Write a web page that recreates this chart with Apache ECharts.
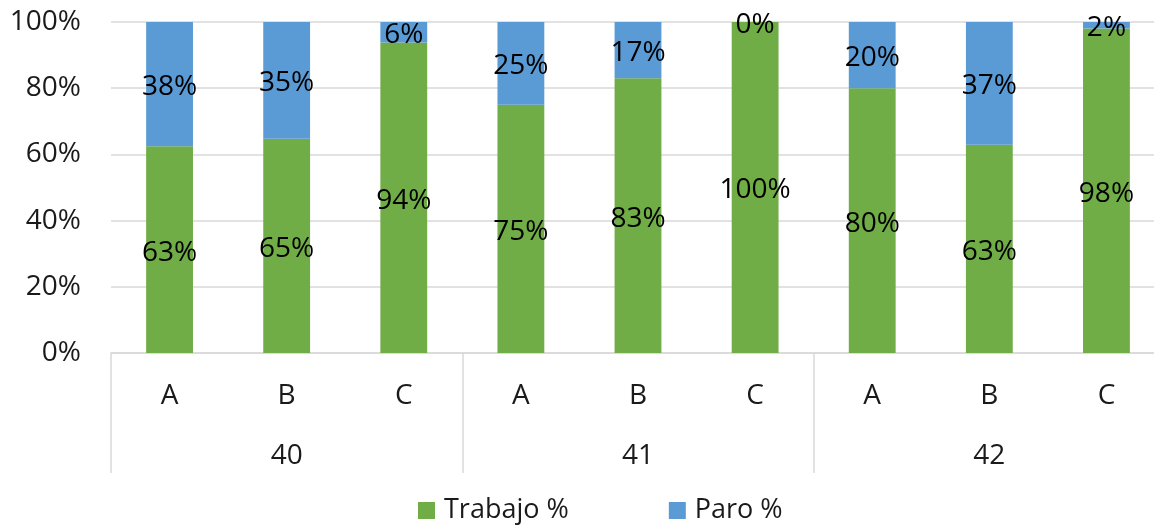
<!DOCTYPE html>
<html>
<head>
<meta charset="utf-8">
<script src="https://cdn.jsdelivr.net/npm/echarts@6/dist/echarts.min.js"></script>
<style>
  html, body { margin: 0; padding: 0; background: #fff; }
  #chart { width: 1154px; height: 525px; }
</style>
</head>
<body>
<div id="chart"></div>
<script>
// Two-level category axis: shift (A/B/C) inside each group (40/41/42)
const groups = ['40', '41', '42'];
const shifts = ['A', 'B', 'C'];
const categories = ['A', 'B', 'C', 'A', 'B', 'C', 'A', 'B', 'C'];

// Share of each slot, in percent
const trabajo = [62.5, 64.7, 93.8, 75, 83, 100, 80, 62.9, 98];
const paro = [37.5, 35.3, 6.2, 25, 17, 0, 20, 37.1, 2];

const yTicks = [0, 20, 40, 60, 80, 100];

const FONT = '"Open Sans", "Noto Sans", sans-serif';
const TEXT = '#1a1a1a';
const LINE = '#d9d9d9';
const FS = 28;

const chart = echarts.init(document.getElementById('chart'), null, { renderer: 'canvas' });

const labelStyle = {
  show: true,
  position: 'inside',
  color: '#000',
  fontFamily: FONT,
  fontSize: FS,
  offset: [0, 3],
  formatter: p => Math.round(p.value) + '%'
};

chart.setOption({
  animation: false,
  textStyle: { fontFamily: FONT },
  grid: { left: 111, top: 22, bottom: 172, width: 1054, outerBoundsMode: 'none', containLabel: false },
  legend: {
    data: ['Trabajo %', 'Paro %'],
    left: 413,
    top: 492,
    icon: 'rect',
    itemWidth: 17,
    itemHeight: 17,
    itemGap: 100,
    textStyle: { fontFamily: FONT, fontSize: 27, color: TEXT, padding: [0, 0, 0, 4] }
  },
  xAxis: [
    {
      type: 'category',
      data: categories,
      position: 'bottom',
      axisLine: { show: true, lineStyle: { color: LINE, width: 1.5 } },
      axisTick: { show: false },
      axisLabel: { color: TEXT, fontFamily: FONT, fontSize: FS, margin: 29 }
    },
    {
      type: 'category',
      data: groups,
      position: 'bottom',
      axisLine: { show: false },
      axisTick: { show: true, length: 120, lineStyle: { color: LINE, width: 1.5 } },
      axisLabel: { color: TEXT, fontFamily: FONT, fontSize: FS, margin: 89 }
    }
  ],
  yAxis: {
    type: 'value',
    min: yTicks[0],
    max: yTicks[yTicks.length - 1],
    interval: 20,
    axisLine: { show: false },
    axisTick: { show: false },
    splitLine: { lineStyle: { color: LINE, width: 1.5 } },
    axisLabel: {
      color: TEXT, fontFamily: FONT, fontSize: FS, margin: 30,
      padding: [4, 0, 0, 0],
      formatter: v => v + '%'
    }
  },
  series: [
    {
      name: 'Trabajo %',
      type: 'bar',
      stack: 'total',
      xAxisIndex: 0,
      barWidth: '40%',
      data: trabajo,
      itemStyle: { color: '#70AD47' },
      label: labelStyle
    },
    {
      name: 'Paro %',
      type: 'bar',
      stack: 'total',
      xAxisIndex: 0,
      barWidth: '40%',
      data: paro,
      itemStyle: { color: '#5B9BD5' },
      label: labelStyle
    }
  ]
});
</script>
</body>
</html>
